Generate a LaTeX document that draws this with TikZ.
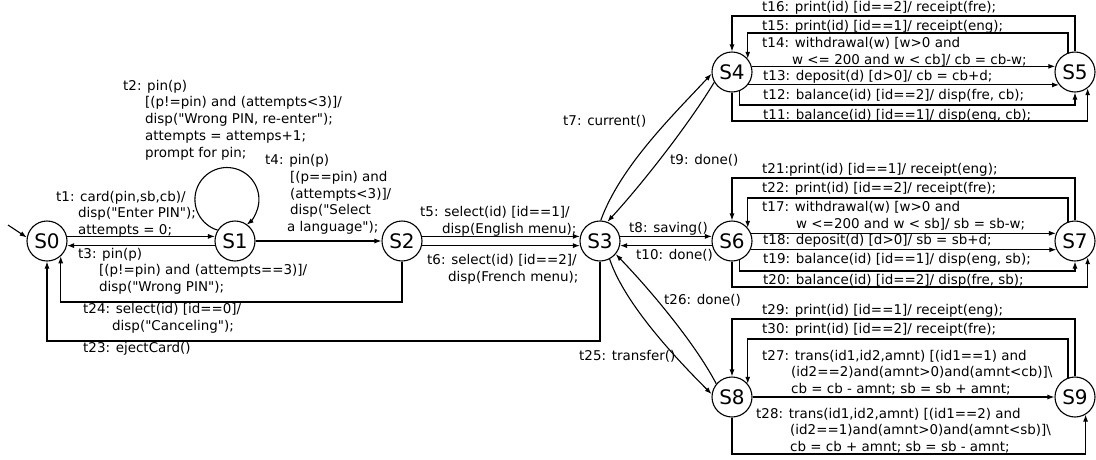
\documentclass[tikz,border=0pt]{standalone}
\usepackage{fontspec}
\setmainfont{DejaVu Sans}[Ligatures=TeXOff]
\usetikzlibrary{arrows.meta}
\begin{document}
\begin{tikzpicture}[x=1pt,y=-1pt,
  state/.style={circle,draw,line width=1.1pt,minimum size=40pt,inner sep=0pt,
    font=\fontsize{20}{20}\selectfont},
  arr/.style={line width=1.1pt,-{Latex[length=7pt,width=5pt]}},
  lbl/.style={anchor=base west,inner sep=0pt,align=left,
    font=\fontsize{13.45}{16.7}\selectfont},
]
\useasboundingbox (0,0) rectangle (1096,459);

% states
\node[state] (S0) at (47,241) {S0};
\node[state] (S1) at (235,241) {S1};
\node[state] (S2) at (402,241) {S2};
\node[state] (S3) at (600,241) {S3};
\node[state] (S4) at (732,72) {S4};
\node[state] (S5) at (1075,72) {S5};
\node[state] (S6) at (732,241) {S6};
\node[state] (S7) at (1075,241) {S7};
\node[state] (S8) at (732,397) {S8};
\node[state] (S9) at (1075,397) {S9};

% card and PIN handling
\coordinate (init) at (8,225);
\draw[arr] (init) -- (S0.170);
\draw[arr] (S0.13) -- (S1.167);
\draw[arr] (S1.-167) -- (S0.-13);
\draw[arr] (S1.148) arc[start angle=107,end angle=412,radius=32];
\draw[arr] (S1) -- (S2);
\draw[arr] (S2.13) -- (S3.167);
\draw[arr] (S2.-13) -- (S3.-167);
\draw[arr] (S2.south) |- (S0.-48 |- 0,302) -- (S0.-48);
\draw[arr] (S3.south) |- (S0.south |- 0,341) -- (S0.south);

% account selection
\draw[arr] (S3.13) -- (S6.167);
\draw[arr] (S6.-167) -- (S3.-13);
\draw[arr] (S3.88) .. controls +(20,-55) and +(-37,40) .. (S4.185);
\draw[arr] (S4.210) .. controls +(-26,43) and +(34,-37) .. (S3.69);
\draw[arr] (S8.140) .. controls +(-22,-42) and +(32,33) .. (S3.-40);
\draw[arr] (S3.-62) .. controls +(15,45) and +(-35,-35) .. (S8.172);

% current account
\draw[arr] (S5.north) -- (S5.north |- 0,16) -| (S4.north);
\draw[arr] (S5.110) -- (S5.110 |- 0,33) -| (S4.40);
\draw[arr] (S4.16) -- (S5.164);
\draw[arr] (S4.-39) -- (S5.-141);
\draw[arr] (S4.-69) |- (S5.south |- 0,105) -- (S5.south);
\draw[arr] (S4.south) |- (S5.-52 |- 0,121) -- (S5.-52);

% saving account
\draw[arr] (S7.north) -- (S7.north |- 0,178) -| (S6.north);
\draw[arr] (S7.110) -- (S7.110 |- 0,198) -| (S6.40);
\draw[arr] (S6.22) -- (S7.158);
\draw[arr] (S6.-25) -- (S7.-155);
\draw[arr] (S6.-69) |- (S7.south |- 0,271) -- (S7.south);
\draw[arr] (S6.south) |- (S7.-52 |- 0,287) -- (S7.-52);

% transfer
\draw[arr] (S9.north) -- (S9.north |- 0,319) -| (S8.north);
\draw[arr] (S9.110) -- (S9.110 |- 0,339) -| (S8.40);
\draw[arr] (S8) -- (S9);
\draw[arr] (S8.south) |- (S9.-59 |- 0,454) -- (S9.-59);

% transition labels (multi-line ones are placed by the baseline of their last line)
\node[lbl] (l2) at (123,157) {t2: pin(p)\\\hspace*{22pt}[(p!=pin) and (attempts<3)]/\\\hspace*{22pt}disp("Wrong PIN, re-enter");\\\hspace*{22pt}attempts = attemps+1;\\\hspace*{22pt}prompt for pin;};
\node[lbl] (l1) at (56,234.5) {t1: card(pin,sb,cb)/\\\hspace*{22pt}disp("Enter PIN");\\\hspace*{22pt}attempts = 0;};
\node[lbl] (l3) at (78,291.5) {t3: pin(p)\\\hspace*{21pt}[(p!=pin) and (attempts==3)]/\\\hspace*{21pt}disp("Wrong PIN");};
\node[lbl] (l24) at (83,330.5) {t24: select(id) [id==0]/\\\hspace*{29pt}disp("Canceling");};
\node[lbl] (l23) at (83,352.5) {t23: ejectCard()};
\node[lbl] (l4) at (265,231.5) {t4: pin(p)\\\hspace*{25pt}[(p==pin) and\\\hspace*{25pt}(attempts<3)]/\\\hspace*{25pt}disp("Select\\\hspace*{22pt}a language");};
\node[lbl] (l5) at (420,233.5) {t5: select(id) [id==1]/\\\hspace*{22pt}disp(English menu);};
\node[lbl] (l6) at (427,281.5) {t6: select(id) [id==2]/\\\hspace*{21pt}disp(French menu);};
\node[lbl] (l7) at (563,125) {t7: current()};
\node[lbl] (l9) at (670,164.5) {t9: done()};
\node[lbl] (l8) at (629,232.8) {t8: saving()};
\node[lbl] (l10) at (636,259.5) {t10: done()};
\node[lbl] (l26) at (664,304.5) {t26: done()};
\node[lbl] (l25) at (579,360.5) {t25: transfer()};

\node[lbl] (l16) at (762,11.5) {t16: print(id) [id==2]/ receipt(fre);};
\node[lbl] (l15) at (762,30) {t15: print(id) [id==1]/ receipt(eng);};
\node[lbl] (l14) at (762,64.5) {t14: withdrawal(w) [w>0 and\\\hspace*{30pt}w <= 200 and w < cb]/ cb = cb-w;};
\node[lbl] (l13) at (763,80) {t13: deposit(d) [d>0]/ cb = cb+d;};
\node[lbl] (l12) at (763,99) {t12: balance(id) [id==2]/ disp(fre, cb);};
\node[lbl] (l11) at (763,119) {t11: balance(id) [id==1]/ disp(eng, cb);};

\node[lbl] (l21) at (762,173.5) {t21:print(id) [id==1]/ receipt(eng);};
\node[lbl] (l22) at (762,192.5) {t22: print(id) [id==2]/ receipt(fre);};
\node[lbl] (l17) at (762,228.5) {t17: withdrawal(w) [w>0 and\\\hspace*{34pt}w <=200 and w < sb]/ sb = sb-w;};
\node[lbl] (l18) at (763,244.5) {t18: deposit(d) [d>0]/ sb = sb+d;};
\node[lbl] (l19) at (763,263.5) {t19: balance(id) [id==1]/ disp(eng, sb);};
\node[lbl] (l20) at (763,284.5) {t20: balance(id) [id==2]/ disp(fre, sb);};

\node[lbl] (l29) at (762,314.5) {t29: print(id) [id==1]/ receipt(eng);};
\node[lbl] (l30) at (762,333.5) {t30: print(id) [id==2]/ receipt(fre);};
\node[lbl] (l27) at (762,393.5) {t27: trans(id1,id2,amnt) [(id1==1) and\\\hspace*{29pt}(id2==2)and(amnt>0)and(amnt<cb)]\textbackslash\\\hspace*{29pt}cb = cb - amnt; sb = sb + amnt;};
\node[lbl] (l28) at (756,451.5) {t28: trans(id1,id2,amnt) [(id1==2) and\\\hspace*{34pt}(id2==1)and(amnt>0)and(amnt<sb)]\textbackslash\\\hspace*{34pt}cb = cb + amnt; sb = sb - amnt;};
\end{tikzpicture}
\end{document}
